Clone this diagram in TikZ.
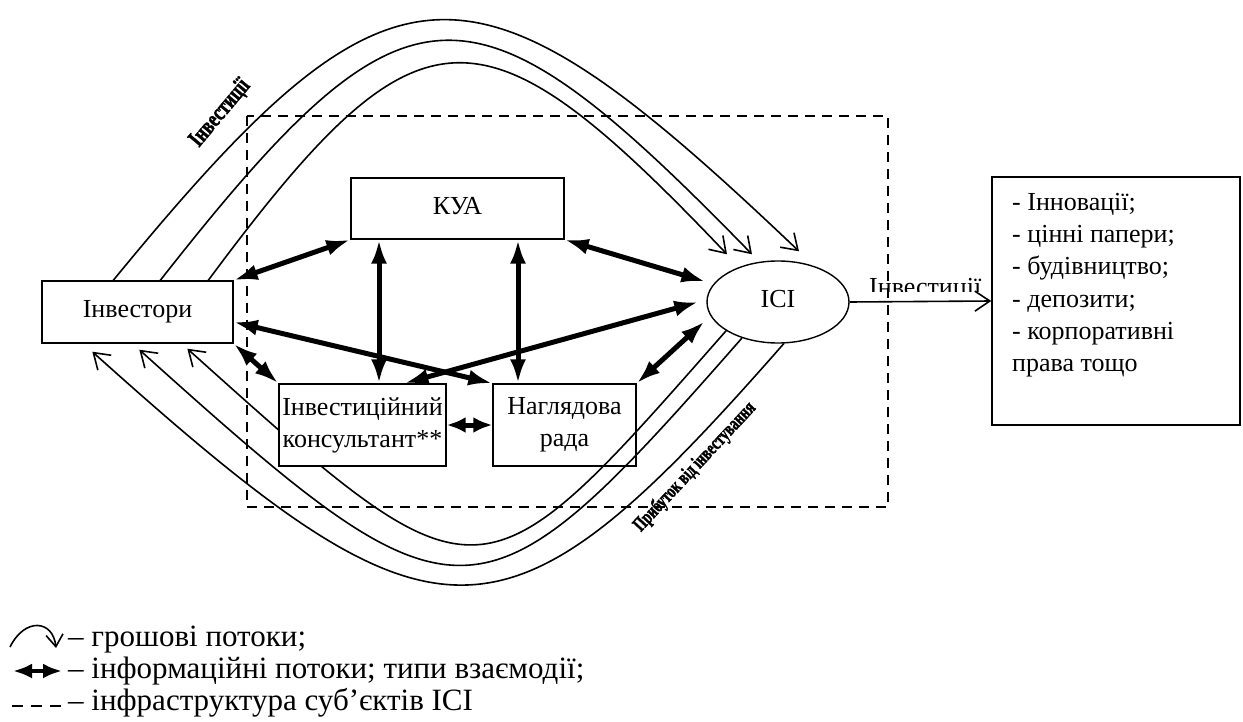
\documentclass[tikz,border=0pt]{standalone}
\usepackage{fontspec}
\setmainfont{Liberation Serif}
\newfontfamily\heavyfont[FakeBold=2]{Liberation Serif}
\usetikzlibrary{arrows.meta,shapes.geometric}
\pgfdeclarelayer{back}
\pgfsetlayers{back,main}

\tikzset{
  txt/.style={font=\fontsize{26}{32}\selectfont},
  box/.style={txt,draw,line width=1.4pt,fill=white,inner sep=0pt,align=center,text depth=5.6pt},
  infoarrow/.style={line width=5pt,{Latex[length=24pt,width=16pt]}-{Latex[length=24pt,width=16pt]}},
  shortinfo/.style={line width=5pt,{Latex[length=19pt,width=16pt]}-{Latex[length=19pt,width=16pt]}},
  flow/.style={line width=1.6pt,-{Straight Barb[length=15pt,width=20pt,line width=1.6pt]}},
  frame/.style={line width=1.8pt,dash pattern=on 10pt off 7pt},
  tilted/.style={inner sep=0pt},
  listline/.style={txt,anchor=base west,inner sep=0pt},
  keyline/.style={font=\fontsize{31}{34}\selectfont,anchor=base west,inner sep=0pt},
}

\begin{document}
\begin{tikzpicture}[x=1pt,y=-1pt]
\useasboundingbox (0,0) rectangle (1243,722);

% participants
\node[box,minimum width=191pt,minimum height=62pt] (inv) at (137.5,312) {Інвестори};
\node[box,minimum width=213pt,minimum height=61pt] (kua) at (457.5,208.5) {КУА};
\node[box,minimum width=167pt,minimum height=82pt] (cons) at (362.5,425) {Інвестиційний\\консультант**};
\node[box,fill=none,minimum width=143pt,minimum height=82pt] (nag) at (564.5,425) {Наглядова\\рада};
\node[box,ellipse,minimum width=142pt,minimum height=82pt] (ici) at (778,302) {ІСІ};
\node[box,minimum width=248pt,minimum height=248pt] (dest) at (1116,301) {};

% directions of investment
\node[listline] (l1) at (1012,211) {- Інновації;};
\node[listline] (l2) at (1012,243) {- цінні папери;};
\node[listline] (l3) at (1012,275) {- будівництво;};
\node[listline] (l4) at (1012,307) {- депозити;};
\node[listline] (l5) at (1012,339) {- корпоративні};
\node[listline] (l6) at (1012,371) {права тощо};

% money flows and the infrastructure frame, behind the boxes
\begin{pgfonlayer}{back}
  \draw[frame] (247,116) rectangle (888,507);
  \draw[flow] ([xshift=72pt]inv.north west) .. controls (394,-62) and (470,-62) .. ([xshift=21pt,yshift=9pt]ici.north);
  \draw[flow] ([xshift=119pt]inv.north west) .. controls (408,-35) and (470,-35) .. ([xshift=-26pt,yshift=6pt]ici.north);
  \draw[flow] ([xshift=167pt]inv.north west) .. controls (420,-5) and (480,-5) .. ([xshift=-51pt,yshift=6pt]ici.north);
  \draw[flow] (ici.278) .. controls (503,664) and (440,664) .. ([xshift=51pt,yshift=-8pt]inv.south west);
  \draw[flow] (ici.225) .. controls (478,639) and (461,639) .. ([xshift=98pt,yshift=-6pt]inv.south west);
  \draw[flow] (ici.209) .. controls (478,613) and (482,613) .. ([xshift=146pt,yshift=-5pt]inv.south west);
\end{pgfonlayer}

\node[tilted,font=\fontsize{24}{24}\heavyfont\bfseries,rotate=50] (lblin) at (220,113) {\scalebox{0.73}[1]{Інвестиції}};
\node[tilted,font=\fontsize{20}{20}\heavyfont\bfseries,rotate=47] (lblout) at (695,467) {\scalebox{0.69}[1]{Прибуток від інвестування}};

% information flows
\coordinate (vA) at ([xshift=16.5pt]cons.north);
\coordinate (vB) at ([xshift=-46.5pt]nag.north);
\draw[infoarrow] (inv.north east) -- (kua.south west);
\draw[infoarrow] (vA) -- (vA |- kua.south);
\draw[infoarrow] (vB) -- (vB |- kua.south);
\draw[infoarrow] (kua.south east) -- ([xshift=-10pt]ici.162);
\draw[infoarrow] ([xshift=42pt]cons.north) -- ([xshift=-8pt]ici.west);
\draw[infoarrow] ([yshift=-10pt]inv.east) -- (nag.north west);
\draw[infoarrow] (inv.south east) -- (cons.north west);
\draw[infoarrow] ([xshift=-10pt]ici.197) -- (nag.north east);
\draw[shortinfo] (cons.east) -- (nag.west);

% investment outflow
\draw[flow] (ici.east) -- (dest.west);
\begin{scope}
  \clip (860,260) rectangle (990,292);
  \node[listline] (outlbl) at (869,295) {Інвестиції};
\end{scope}

% legend
\coordinate (k1a) at (10,647);
\coordinate (k1b) at (56,648);
\draw[line width=1.6pt,-{Straight Barb[length=12pt,width=17pt,line width=1.6pt]}] (k1a) .. controls (25,617) and (53,620) .. (k1b);
\coordinate (k2a) at (13,671);
\coordinate (k2b) at (62,671);
\draw[line width=4.5pt,{Latex[length=19pt,width=15pt]}-{Latex[length=19pt,width=15pt]}] (k2a) -- (k2b);
\coordinate (k3a) at (12,706);
\coordinate (k3b) at (62,706);
\draw[line width=1.8pt,dash pattern=on 11pt off 8pt] (k3a) -- (k3b);
\node[keyline] (t1) at (68,646) {– грошові потоки;};
\node[keyline] (t2) at (68,678) {– інформаційні потоки; типи взаємодії;};
\node[keyline] (t3) at (68,710) {– інфраструктура суб’єктів ІСІ};
\end{tikzpicture}
\end{document}
